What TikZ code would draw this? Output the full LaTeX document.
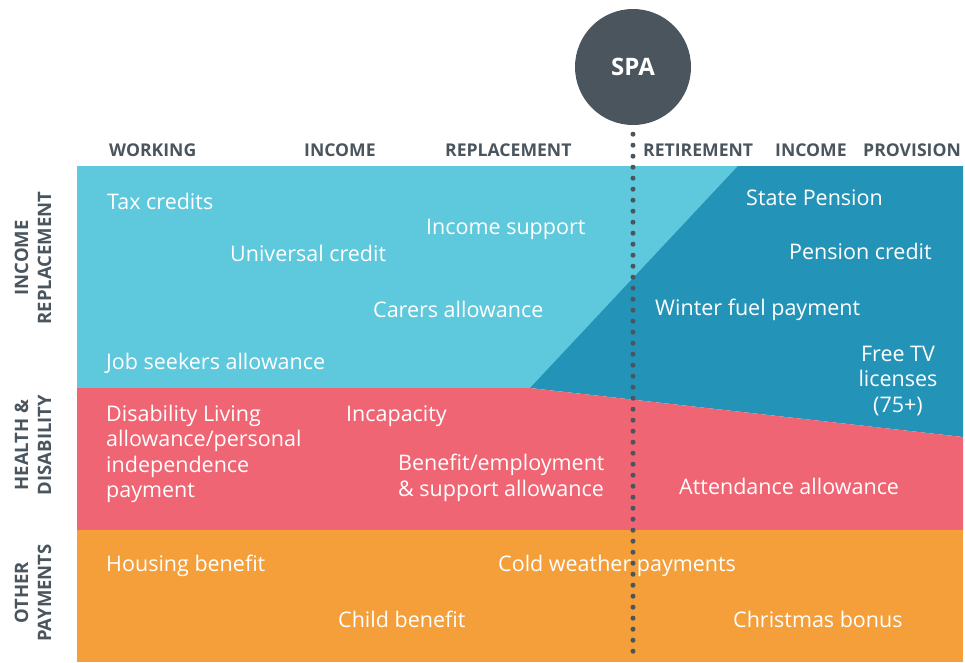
\documentclass[tikz,border=0pt]{standalone}
\usepackage{fontspec}
\setmainfont{Open Sans}
\usetikzlibrary{positioning, calc}
\definecolor{lightbluecolor}{HTML}{5EC8DC}
\definecolor{darkbluecolor}{HTML}{2394B8}
\definecolor{redcolor}{HTML}{F06574}
\definecolor{orangecolor}{HTML}{F49F3A}
\definecolor{slatecolor}{HTML}{4A555E}
\begin{document}
\begin{tikzpicture}[
    x=1pt, y=-1pt,
    benefit/.style={text=white, font=\fontsize{21.5}{25.5}\selectfont, anchor=west, inner sep=0pt, align=left},
    header/.style={text=slatecolor, font=\bfseries\fontsize{17.6}{20}\selectfont, anchor=west, inner sep=0pt},
    band/.style={text=slatecolor, font=\bfseries\fontsize{18.5}{23}\selectfont, rotate=90, align=center, inner sep=0pt},
    spa/.style={circle, fill=slatecolor, minimum size=116pt, inner sep=0pt, text=white, font=\bfseries\fontsize{24}{26}\selectfont},
    timeline/.style={slatecolor, line width=5pt, line cap=round, dash pattern=on 0pt off 11pt}
]
    \useasboundingbox (0,0) rectangle (965,662);
    % Bands
    \fill[lightbluecolor] (77,166) rectangle (963,388);
    \fill[darkbluecolor] (738,166) -- (963,166) -- (963,437) -- (530,388) -- cycle;
    \fill[redcolor] (77,388) -- (530,388) -- (963,437) -- (963,530) -- (77,530) -- cycle;
    \fill[orangecolor] (77,530) rectangle (963,662);

    % Headers
    \node[header] (working) at (109,150) {WORKING};
    \node[header] (income1) at (304,150) {INCOME};
    \node[header] (replace) at (445,150) {REPLACEMENT};
    \node[header] (retire) at (643,150) {RETIREMENT};
    \node[header] (income2) at (775,150) {INCOME};
    \node[header] (provision) at (863,150) {PROVISION};

    % Band labels
    \node[band] (bandincome) at (33,258) {INCOME\\REPLACEMENT};
    \node[band] (bandhealth) at (33,445) {HEALTH \&\\DISABILITY};
    \node[band] (bandother) at (33,593) {OTHER\\PAYMENTS};

    % Income replacement
    \node[benefit] (tax) at (107,201) {Tax credits};
    \node[benefit] (universal) at (230,253) {Universal credit};
    \node[benefit] (support) at (426,229) {Income support};
    \node[benefit] (carers) at (373,309) {Carers allowance};
    \node[benefit] (jobseekers) at (106,363) {Job seekers allowance};
    \node[benefit] (pension) at (746,198) {State Pension};
    \node[benefit] (pensioncredit) at (789,251) {Pension credit};
    \node[benefit] (fuel) at (655,310) {Winter fuel payment};
    \node[benefit, anchor=center, align=center] (tv) at (898,381) {Free TV\\licenses\\(75+)};

    % Health & disability
    \node[benefit] (disability) at (106,454) {Disability Living\\allowance/personal\\independence\\payment};
    \node[benefit] (incapacity) at (346,416) {Incapacity};
    \node[benefit] (esa) at (398,478) {Benefit/employment\\\& support allowance};
    \node[benefit] (attendance) at (679,486) {Attendance allowance};

    % Other payments
    \node[benefit] (housing) at (106,566) {Housing benefit};
    \node[benefit] (cold) at (498,566) {Cold weather payments};
    \node[benefit] (child) at (338,619) {Child benefit};
    \node[benefit] (christmas) at (733,619) {Christmas bonus};

    % State pension age
    \node[spa] (spa) at (633,67) {SPA};
    \coordinate (bottom) at (633,662);
    \draw[timeline] ($(spa.south)+(0,9)$) -- (bottom);
\end{tikzpicture}
\end{document}
